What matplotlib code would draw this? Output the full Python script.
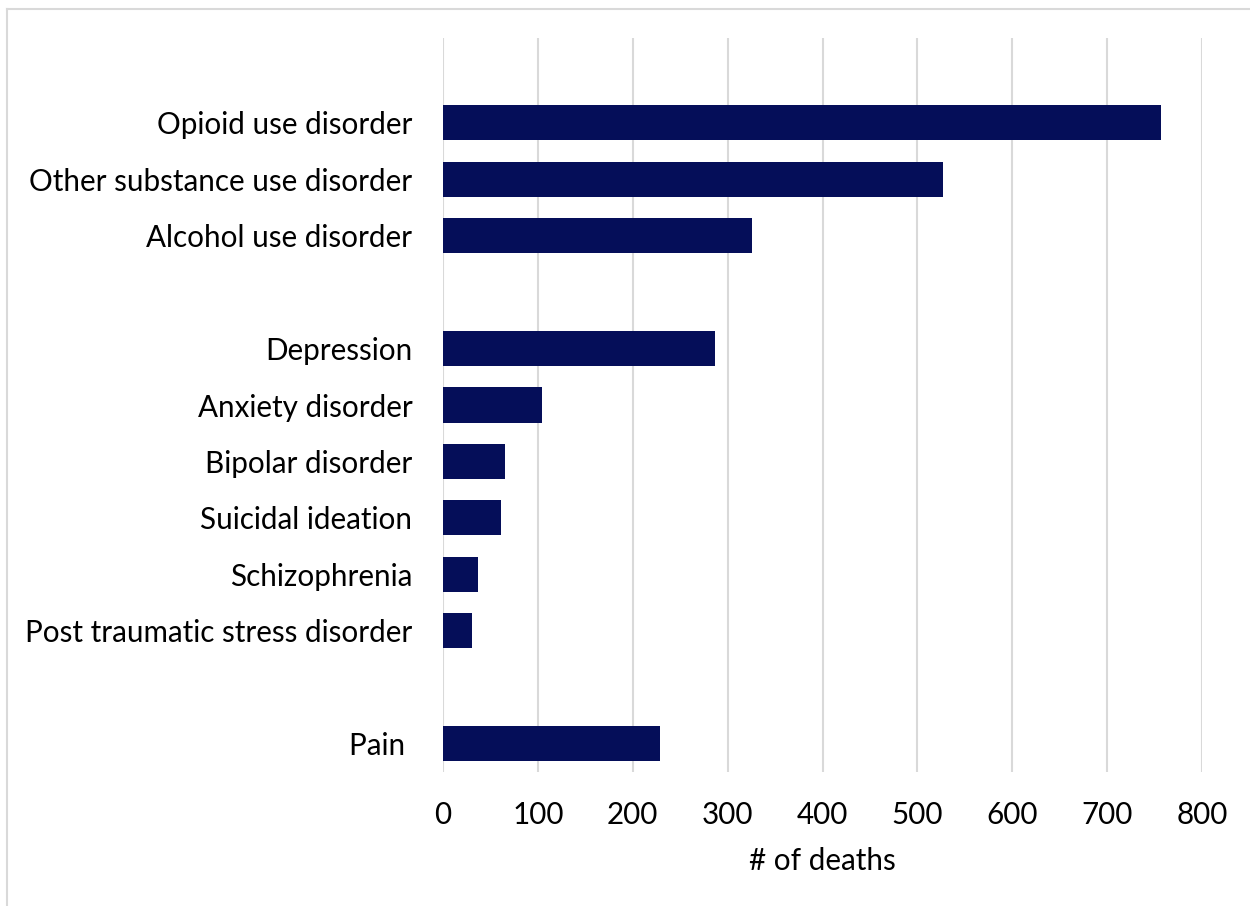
import matplotlib
matplotlib.use("Agg")
import matplotlib.pyplot as plt
from matplotlib.lines import Line2D

# rows top to bottom, "" = blank spacer row
categories = ["", "Opioid use disorder", "Other substance use disorder", "Alcohol use disorder", "",
              "Depression", "Anxiety disorder", "Bipolar disorder", "Suicidal ideation",
              "Schizophrenia", "Post traumatic stress disorder", "", "Pain "]
deaths = [None, 757, 527, 326, None, 287, 104, 65, 61, 37, 31, None, 229]
xticks = [0, 100, 200, 300, 400, 500, 600, 700, 800]

plt.rcParams['font.family'] = ['Lato', 'DejaVu Sans']
fs = 21.3

fig = plt.figure(figsize=(12.5, 9.06), dpi=100)
ax = fig.add_axes([443 / 1250, 1 - 772 / 906, (1202 - 443) / 1250, (772 - 38) / 906])

ypos = list(range(len(categories)))
for y, v in zip(ypos, deaths):
    if v is not None:
        ax.barh(y, v, height=0.62, color="#050E59", zorder=3)

ax.set_ylim(len(categories) - 0.5, -0.5)
ax.set_xlim(0, 800)
ax.set_yticks(ypos)
ax.set_yticklabels(categories, fontsize=fs)
ax.set_xticks(xticks)
ax.set_xticklabels([str(t) for t in xticks], fontsize=fs)
ax.tick_params(axis="both", length=0)
ax.tick_params(axis="y", pad=22)
ax.tick_params(axis="x", pad=21)
ax.grid(axis="x", color="#D9D9D9", linewidth=1.5, zorder=0)
for s in ax.spines.values():
    s.set_visible(False)
ax.set_xlabel("# of deaths", fontsize=fs, labelpad=13)

# chart area border (top and left only visible)
fig.add_artist(Line2D([7 / 1250, 7 / 1250], [0, 1 - 9 / 906], transform=fig.transFigure,
                      color="#D9D9D9", linewidth=1.5))
fig.add_artist(Line2D([7 / 1250, 1], [1 - 9 / 906, 1 - 9 / 906], transform=fig.transFigure,
                      color="#D9D9D9", linewidth=1.5))

plt.savefig("out.png", dpi=100)
